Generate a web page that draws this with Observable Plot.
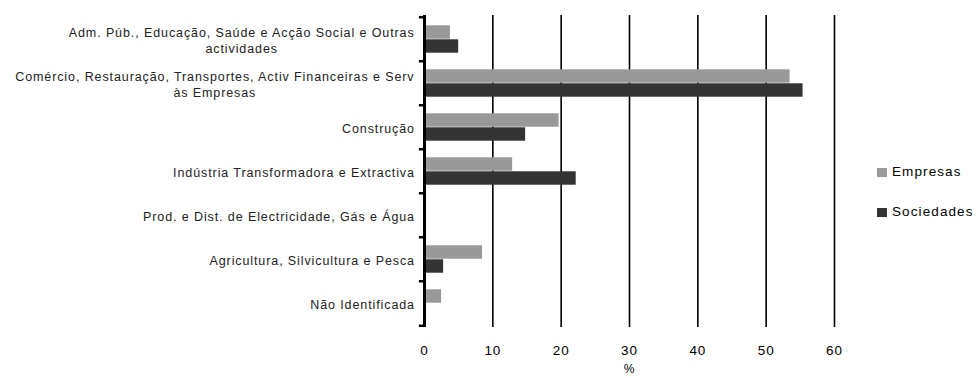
<!DOCTYPE html>
<html><head><meta charset="utf-8">
<script src="https://cdn.jsdelivr.net/npm/d3@7"></script>
<script src="https://cdn.jsdelivr.net/npm/@observablehq/plot@0.6"></script>
<style>
body{margin:0;background:#fff;}
#chart{position:relative;width:980px;height:378px;font-family:"Liberation Sans",Arial,sans-serif;}
#chart svg text{letter-spacing:0.9px;}
.legend{position:absolute;left:877px;top:165px;font-size:13.5px;letter-spacing:1.1px;color:#000;line-height:14px}
.legend .item{display:flex;align-items:center;height:14px;margin-bottom:26px;white-space:nowrap}
.legend .sw{width:10px;height:9px;margin-right:5px;flex:none}
</style></head><body><div id="chart"></div>
<script>
const categories = [
  "Adm. Púb., Educação, Saúde e Acção Social e Outras actividades",
  "Comércio, Restauração, Transportes, Activ Financeiras e Serv às Empresas",
  "Construção",
  "Indústria Transformadora e Extractiva",
  "Prod. e Dist. de Electricidade, Gás e Água",
  "Agricultura, Silvicultura e Pesca",
  "Não Identificada"
];
const categoryLabels = [
  "Adm. Púb., Educação, Saúde e Acção Social e Outras\nactividades",
  "Comércio, Restauração, Transportes, Activ Financeiras e Serv\nàs Empresas",
  "Construção",
  "Indústria Transformadora e Extractiva",
  "Prod. e Dist. de Electricidade, Gás e Água",
  "Agricultura, Silvicultura e Pesca",
  "Não Identificada"
];
const seriesNames = ["Empresas", "Sociedades"];
const seriesColors = ["#999999", "#333333"];
const empresas   = [3.8, 53.5, 19.7, 12.9, 0, 8.5, 2.5];
const sociedades = [5.0, 55.4, 14.8, 22.2, 0, 2.8, 0];
const xTicks = [0, 10, 20, 30, 40, 50, 60];
const gridTicks = [10, 20, 30, 40, 50, 60];
const xLabel = "%";

const W = 980, H = 378, mL = 424, mR = 146, mT = 15, mB = 51;
const bw = (H - mT - mB) / categories.length;
const barH = 14;
const outer = bw / 2 - barH;

const rows = categories.flatMap((c, i) => [
  {category: c, series: seriesNames[0], value: empresas[i]},
  {category: c, series: seriesNames[1], value: sociedades[i]}
]);

// measure labels for centered multi-line layout
const ctx = document.createElement("canvas").getContext("2d");
const labelFont = 12.5, ls = 0.9;
ctx.font = `${labelFont}px "Liberation Sans", Arial, sans-serif`;
const labelWidth = s => Math.max(...s.split("\n").map(l => ctx.measureText(l).width + l.length * ls));

const labelMarks = categories.map((c, i) => Plot.text([c], {
  y: d => d,
  frameAnchor: "left",
  text: () => categoryLabels[i],
  textAnchor: "middle",
  dx: -(10 + labelWidth(categoryLabels[i]) / 2) + ls / 2,
  lineHeight: 1.3,
  fontSize: labelFont,
  fill: "#222"
}));

const plot = Plot.plot({
  width: W, height: H,
  marginLeft: mL, marginRight: mR, marginTop: mT, marginBottom: mB,
  style: {fontFamily: '"Liberation Sans", Arial, sans-serif', fontSize: "13.5px", color: "#000", background: "#fff"},
  x: {domain: [0, 60], axis: null},
  y: {domain: categories, padding: 0, axis: null},
  color: {domain: seriesNames, range: seriesColors},
  marks: [
    Plot.ruleX(gridTicks, {stroke: "#000", strokeWidth: 1.6}),
    Plot.barX(rows.filter(d => d.series === seriesNames[0]), {x: "value", y: "category", fill: "series", insetTop: outer, insetBottom: bw / 2}),
    Plot.barX(rows.filter(d => d.series === seriesNames[1]), {x: "value", y: "category", fill: "series", insetTop: bw / 2, insetBottom: outer}),
    Plot.ruleX([0], {stroke: "#000", strokeWidth: 3}),
    Plot.ruleY(categories, {y: d => d, x1: -0.75, x2: 0, dy: -bw / 2, stroke: "#000", strokeWidth: 2.5}),
    Plot.ruleY(categories.slice(-1), {y: d => d, x1: -0.75, x2: 0, dy: bw / 2, stroke: "#000", strokeWidth: 2.5}),
    Plot.axisX({ticks: xTicks, tickSize: 0, tickPadding: 18, fontSize: 13.5, fill: "#000", label: null}),
    Plot.text([xLabel], {frameAnchor: "bottom", dy: 42, lineAnchor: "middle", fontSize: 12, fill: "#000"}),
    ...labelMarks
  ]
});

const chart = document.getElementById("chart");
chart.appendChild(plot);

const color = plot.scale("color");
const legend = document.createElement("div");
legend.className = "legend";
color.domain.forEach((name, i) => {
  const item = document.createElement("div");
  item.className = "item";
  const sw = document.createElement("span");
  sw.className = "sw";
  sw.style.background = color.range[i];
  const t = document.createElement("span");
  t.textContent = name;
  item.appendChild(sw); item.appendChild(t);
  legend.appendChild(item);
});
chart.appendChild(legend);
</script>
</body></html>
